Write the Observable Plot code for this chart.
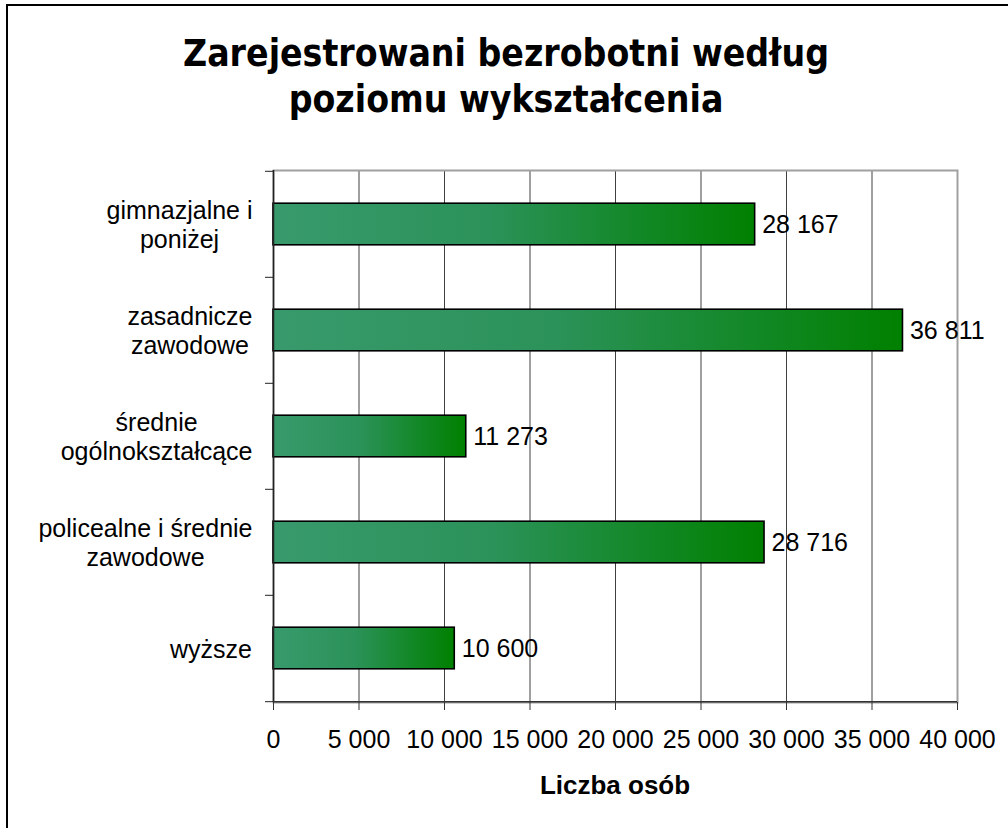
<!DOCTYPE html>
<html><head><meta charset="utf-8">
<script src="https://cdn.jsdelivr.net/npm/d3@7"></script>
<script src="https://cdn.jsdelivr.net/npm/@observablehq/plot@0.6"></script>
<style>
html,body{margin:0;padding:0;background:#fff;overflow:hidden;}
#page{position:relative;width:1008px;height:828px;overflow:hidden;background:#fff;}
#border{position:absolute;left:6px;top:4px;width:1100px;height:1000px;border-left:2px solid #000;border-top:2px solid #000;}
#title{position:absolute;left:0;top:31px;width:1012px;text-align:center;font-family:"DejaVu Sans Condensed","DejaVu Sans",sans-serif;font-weight:bold;font-size:37px;line-height:46px;color:#000;}
#chart{position:absolute;left:0;top:120px;}
#xlabel{position:absolute;left:273px;width:684px;top:770px;text-align:center;font-family:"Liberation Sans",Arial,sans-serif;font-weight:bold;font-size:26px;line-height:30px;color:#000;}
</style></head>
<body>
<div id="page">
  <div id="border"></div>
  <div id="title">Zarejestrowani bezrobotni według<br>poziomu wykształcenia</div>
  <div id="chart"></div>
  <div id="xlabel">Liczba osób</div>
</div>
<script>
const categories = ["gimnazjalne i\nponiżej", "zasadnicze\nzawodowe", "średnie\nogólnokształcące", "policealne i średnie\nzawodowe", "wyższe"];
const values = [28167, 36811, 11273, 28716, 10600];
const xTicks = [0, 5000, 10000, 15000, 20000, 25000, 30000, 35000, 40000];

const data = categories.map((c, i) => ({cat: c, value: values[i]}));
const fmt = d3.formatLocale({decimal: ",", thousands: " ", grouping: [3], currency: ["", ""]}).format(",d");

const W = 1008, H = 637, mT = 50, mB = 55, mL = 273, mR = 51;
const bw = (H - mT - mB) / categories.length;
const barH = 42;
const inset = (bw - barH) / 2;

const chart = Plot.plot({
  width: W, height: H,
  marginTop: mT, marginBottom: mB, marginLeft: mL, marginRight: mR,
  style: {fontFamily: '"Liberation Sans", Arial, sans-serif', color: "#000", background: "transparent", overflow: "visible"},
  x: {domain: [0, 40000], axis: null},
  y: {domain: categories, padding: 0, axis: null},
  marks: [
    Plot.gridX(xTicks, {stroke: "#404040", strokeOpacity: 1, strokeWidth: 1}),
    Plot.frame({stroke: "#a0a0a0", strokeWidth: 2}),
    Plot.barX(data, {x: "value", y: "cat", fill: "url(#barGrad)", stroke: "#000", strokeWidth: 1.6, insetTop: inset, insetBottom: inset}),
    Plot.ruleX([0], {stroke: "#222", strokeWidth: 1.5}),
    Plot.ruleY([categories[categories.length - 1]], {dy: bw / 2, stroke: "#333", strokeWidth: 1.5}),
    Plot.axisY({tickSize: 8, dy: -bw / 2, fill: "none", stroke: "#222", label: null}),
    Plot.axisY([categories[categories.length - 1]], {tickSize: 8, dy: bw / 2, fill: "none", stroke: "#222", label: null}),
    Plot.axisY({tickSize: 0, tickPadding: 21, fontSize: 25, lineHeight: 1.15, fill: "#000", label: null}),
    Plot.axisX(xTicks, {tickSize: 8, tickPadding: 20, fontSize: 25, stroke: "#333", fill: "#000", tickFormat: fmt, label: null}),
    Plot.text(data, {x: "value", y: "cat", text: d => fmt(d.value), dx: 7, textAnchor: "start", fontSize: 25, fill: "#000"})
  ]
});

const ns = "http://www.w3.org/2000/svg";
const defs = document.createElementNS(ns, "defs");
const grad = document.createElementNS(ns, "linearGradient");
grad.setAttribute("id", "barGrad");
grad.setAttribute("x1", "0"); grad.setAttribute("x2", "1"); grad.setAttribute("y1", "0"); grad.setAttribute("y2", "0");
[["0%", "#389a6c"], ["45%", "#2b9259"], ["100%", "#008000"]].forEach(([o, c]) => {
  const s = document.createElementNS(ns, "stop");
  s.setAttribute("offset", o); s.setAttribute("stop-color", c);
  grad.appendChild(s);
});
defs.appendChild(grad);
chart.insertBefore(defs, chart.firstChild);

document.getElementById("chart").appendChild(chart);

chart.querySelectorAll('g[aria-label="y-axis tick label"] text').forEach(t => {
  const w = t.getBBox().width;
  t.setAttribute("text-anchor", "middle");
  t.setAttribute("transform", (t.getAttribute("transform") || "") + ` translate(${-w / 2},0)`);
});
</script>
</body></html>
